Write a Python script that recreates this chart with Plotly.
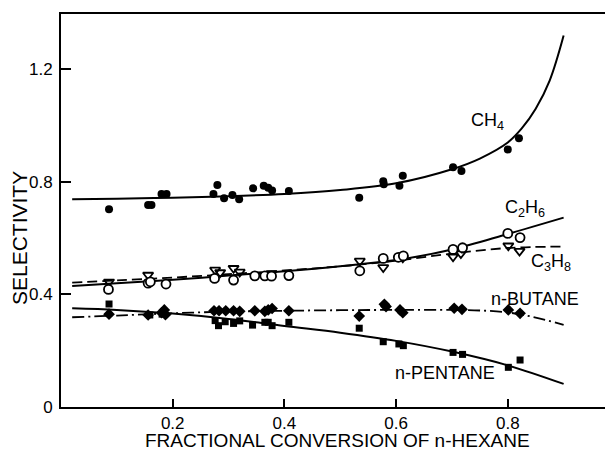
import plotly.graph_objects as go

# ---- data ----
ch4_x = [0.086, 0.156, 0.162, 0.180, 0.189, 0.273, 0.280, 0.292, 0.307, 0.319, 0.344, 0.363, 0.371, 0.378, 0.408,
         0.534, 0.577, 0.578, 0.606, 0.612, 0.702, 0.717, 0.800, 0.820]
ch4_y = [0.703, 0.718, 0.718, 0.757, 0.757, 0.757, 0.789, 0.742, 0.753, 0.738, 0.777, 0.786, 0.779, 0.769, 0.768,
         0.744, 0.802, 0.792, 0.786, 0.822, 0.852, 0.839, 0.915, 0.955]

c2h6_x = [0.085, 0.156, 0.160, 0.188, 0.275, 0.309, 0.347, 0.365, 0.377, 0.408, 0.535, 0.577, 0.604, 0.613,
          0.702, 0.719, 0.800, 0.822]
c2h6_y = [0.418, 0.440, 0.445, 0.437, 0.457, 0.451, 0.466, 0.466, 0.465, 0.467, 0.484, 0.528, 0.532, 0.537,
          0.560, 0.566, 0.617, 0.602]

c3h8_x = [0.086, 0.156, 0.276, 0.285, 0.309, 0.320, 0.377, 0.535, 0.577, 0.612, 0.702, 0.716, 0.801, 0.821]
c3h8_y = [0.445, 0.469, 0.487, 0.478, 0.493, 0.480, 0.475, 0.519, 0.496, 0.530, 0.534, 0.545, 0.573, 0.554]

butane_x = [0.086, 0.156, 0.180, 0.185, 0.187, 0.274, 0.283, 0.295, 0.309, 0.320, 0.347, 0.365, 0.371, 0.378,
            0.408, 0.534, 0.579, 0.582, 0.607, 0.612, 0.704, 0.718, 0.801, 0.822]
butane_y = [0.330, 0.327, 0.335, 0.345, 0.328, 0.342, 0.342, 0.342, 0.342, 0.340, 0.342, 0.340, 0.345, 0.350,
            0.342, 0.323, 0.365, 0.357, 0.345, 0.335, 0.351, 0.347, 0.345, 0.333]

pentane_x = [0.086, 0.159, 0.181, 0.276, 0.282, 0.294, 0.309, 0.320, 0.343, 0.365, 0.371, 0.378, 0.408,
             0.534, 0.577, 0.605, 0.613, 0.702, 0.719, 0.801, 0.822]
pentane_y = [0.366, 0.327, 0.330, 0.307, 0.289, 0.303, 0.297, 0.306, 0.291, 0.301, 0.301, 0.289, 0.301,
             0.280, 0.232, 0.224, 0.218, 0.194, 0.187, 0.141, 0.167]

# fitted curves
ch4_fit_x = [0.02, 0.1, 0.2, 0.3, 0.4, 0.5, 0.6, 0.7, 0.75, 0.8, 0.825, 0.85, 0.875, 0.9]
ch4_fit_y = [0.738, 0.740, 0.744, 0.749, 0.757, 0.771, 0.795, 0.845, 0.883, 0.94, 0.99, 1.06, 1.16, 1.32]

fit_x = [0.02, 0.1, 0.2, 0.3, 0.4, 0.5, 0.6, 0.7, 0.8, 0.9]
c2h6_fit_y = [0.430, 0.440, 0.452, 0.467, 0.482, 0.500, 0.522, 0.560, 0.615, 0.673]
c3h8_fit_y = [0.442, 0.450, 0.460, 0.472, 0.485, 0.500, 0.520, 0.545, 0.565, 0.570]
butane_fit_x = [0.02, 0.1, 0.2, 0.3, 0.4, 0.5, 0.6, 0.7, 0.75, 0.8, 0.85, 0.9]
butane_fit_y = [0.319, 0.325, 0.333, 0.339, 0.342, 0.344, 0.345, 0.345, 0.343, 0.336, 0.318, 0.292]
pentane_fit_y = [0.351, 0.345, 0.332, 0.313, 0.288, 0.264, 0.235, 0.197, 0.148, 0.082]

x_ticks = [0.2, 0.4, 0.6, 0.8]
x_ticklabels = ["0.2", "0.4", "0.6", "0.8"]
y_ticks = [0, 0.4, 0.8, 1.2]
y_ticklabels = ["0", "0.4", "0.8", "1.2"]

labels = [("CH<sub>4</sub>", 0.763, 1.016),
          ("C<sub>2</sub>H<sub>6</sub>", 0.831, 0.707),
          ("C<sub>3</sub>H<sub>8</sub>", 0.877, 0.512),
          ("n-BUTANE", 0.849, 0.384),
          ("n-PENTANE", 0.688, 0.121)]

FONT = "Liberation Sans, Arial, sans-serif"
BLACK = "black"

fig = go.Figure()

# fitted curves
fig.add_trace(go.Scatter(x=ch4_fit_x, y=ch4_fit_y, mode="lines", line=dict(color=BLACK, width=2, shape="spline")))
fig.add_trace(go.Scatter(x=fit_x, y=c2h6_fit_y, mode="lines", line=dict(color=BLACK, width=2, shape="spline")))
fig.add_trace(go.Scatter(x=fit_x, y=c3h8_fit_y, mode="lines",
                         line=dict(color=BLACK, width=1.8, shape="spline", dash="10px,5px")))
fig.add_trace(go.Scatter(x=butane_fit_x, y=butane_fit_y, mode="lines",
                         line=dict(color=BLACK, width=1.8, shape="spline", dash="12px,4px,2px,4px")))
fig.add_trace(go.Scatter(x=fit_x, y=pentane_fit_y, mode="lines", line=dict(color=BLACK, width=2, shape="spline")))

# data markers
fig.add_trace(go.Scatter(x=ch4_x, y=ch4_y, mode="markers",
                         marker=dict(symbol="circle", size=8, color=BLACK)))
fig.add_trace(go.Scatter(x=c3h8_x, y=c3h8_y, mode="markers",
                         marker=dict(symbol="triangle-down-open", size=9, color=BLACK, line=dict(width=1.8))))
fig.add_trace(go.Scatter(x=c2h6_x, y=c2h6_y, mode="markers",
                         marker=dict(symbol="circle", size=9, color="white", line=dict(width=1.8, color=BLACK))))
fig.add_trace(go.Scatter(x=butane_x, y=butane_y, mode="markers",
                         marker=dict(symbol="diamond", size=9, color=BLACK)))
fig.add_trace(go.Scatter(x=pentane_x, y=pentane_y, mode="markers",
                         marker=dict(symbol="square", size=7, color=BLACK)))

# invisible trace to carry the right-hand tick axis
fig.add_trace(go.Scatter(x=[None], y=[None], yaxis="y2", mode="markers", hoverinfo="skip"))

for txt, lx, ly in labels:
    fig.add_annotation(x=lx, y=ly, text=txt, showarrow=False,
                       font=dict(family=FONT, size=18, color=BLACK))

# axis titles
fig.add_annotation(xref="paper", yref="paper", x=-0.076, y=0.43, text="SELECTIVITY", textangle=-90,
                   showarrow=False, xanchor="center", yanchor="middle",
                   font=dict(family=FONT, size=21, color=BLACK))
fig.add_annotation(xref="paper", yref="paper", x=0.5, y=-0.085, text="FRACTIONAL CONVERSION OF n-HEXANE",
                   showarrow=False, xanchor="center", yanchor="middle", borderpad=0,
                   font=dict(family=FONT, size=19, color=BLACK))

# the page body has an 8px margin, so the figure is sized to end at the window edge
fig.update_layout(
    width=605, height=442,
    margin=dict(l=53, r=0, t=6, b=43),
    paper_bgcolor="white", plot_bgcolor="white",
    showlegend=False,
    font=dict(family=FONT, color=BLACK),
    xaxis=dict(range=[0, 0.9884], tickvals=x_ticks, ticktext=x_ticklabels, automargin=False,
               ticks="inside", ticklen=8, tickwidth=2, tickcolor=BLACK,
               showline=True, linewidth=2, linecolor=BLACK, mirror=True,
               showgrid=False, zeroline=False, ticklabelstandoff=0,
               tickfont=dict(family=FONT, size=17, color=BLACK)),
    yaxis=dict(range=[0, 1.3966], tickvals=y_ticks, ticktext=y_ticklabels, automargin=False,
               ticks="inside", ticklen=10, tickwidth=2, tickcolor=BLACK,
               showline=True, linewidth=2, linecolor=BLACK,
               showgrid=False, zeroline=False, ticklabelstandoff=3,
               tickfont=dict(family=FONT, size=17, color=BLACK)),
    yaxis2=dict(range=[0, 1.3966], overlaying="y", side="right", tickvals=[0.4, 0.8, 1.2], automargin=False,
                showticklabels=False, ticks="inside", ticklen=6, tickwidth=2, tickcolor=BLACK,
                showline=False, showgrid=False, zeroline=False),
)

fig.write_html("out.html")
